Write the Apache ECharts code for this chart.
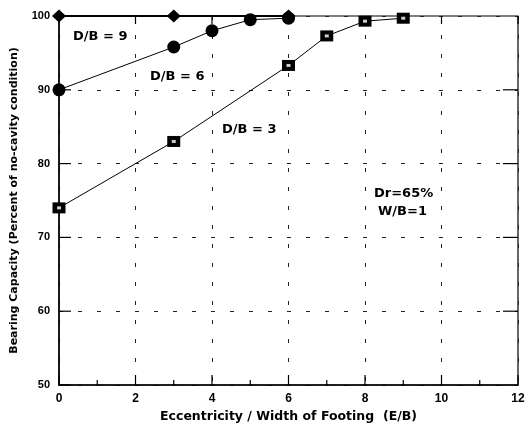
<!DOCTYPE html>
<html><head><meta charset="utf-8">
<script src="https://cdn.jsdelivr.net/npm/echarts@6/dist/echarts.min.js"></script>
<style>html,body{margin:0;padding:0;background:#fff}#c{width:529px;height:423px}</style>
</head><body><div id="c"></div>
<script>
const xTicks = [0, 2, 4, 6, 8, 10, 12];
const xMinorTicks = [1, 3, 5, 7, 9, 11];
const yTicks = [50, 60, 70, 80, 90, 100];
const db9X = [0, 3, 6];
const db9Y = [100, 100, 100];
const db6X = [0, 3, 4, 5, 6];
const db6Y = [90, 95.8, 98.0, 99.5, 99.7];
const db3X = [0, 3, 6, 7, 8, 9];
const db3Y = [74, 83, 93.3, 97.3, 99.3, 99.7];
const seriesNames = ['D/B = 9', 'D/B = 6', 'D/B = 3'];
const notes = ['Dr=65%', 'W/B=1'];

const zip = (xs, ys) => xs.map((x, i) => [x, ys[i]]);
const F = 'Liberation Sans, Arial, sans-serif';
const H = '"DejaVu Sans", sans-serif';
const xMin = xTicks[0], xMax = xTicks[xTicks.length - 1];
const yMin = yTicks[0], yMax = yTicks[yTicks.length - 1];
const chart = echarts.init(document.getElementById('c'), null, {renderer: 'canvas'});
const dash = {color: '#222', type: [4, 15], width: 1};

// tick marks: [x, y, kind]  kind: 0 bottom major, 1 bottom minor, 2 top, 3 left, 4 right
const tickData = []
  .concat(xTicks.map(v => [v, yMin, 0]))
  .concat(xMinorTicks.map(v => [v, yMin, 1]))
  .concat(xTicks.map(v => [v, yMax, 2]))
  .concat(yTicks.map(v => [xMin, v, 3]))
  .concat(yTicks.slice(1, -1).map(v => [xMax, v, 4]));
const tickLen = [10, 5, 8, 12, 15];
const tickDir = [[0, -1], [0, -1], [0, 1], [1, 0], [-1, 0]];

chart.setOption({
  animation: false,
  backgroundColor: '#fff',
  grid: {left: 59, right: 11, top: 16, bottom: 38, show: true, borderColor: '#000', borderWidth: 1.2,
         containLabel: false, outerBoundsMode: 'none'},
  xAxis: {
    type: 'value', min: xMin, max: xMax, interval: xTicks[1] - xTicks[0],
    axisLine: {show: true, lineStyle: {color: '#000', width: 1.5}},
    axisTick: {show: false},
    axisLabel: {color: '#000', fontFamily: F, fontWeight: 'bold', fontSize: 12, margin: 8},
    splitLine: {show: true, lineStyle: dash},
    name: 'Eccentricity / Width of Footing  (E/B)',
    nameLocation: 'middle', nameGap: 25,
    nameTextStyle: {color: '#000', fontFamily: H, fontWeight: 'bold', fontSize: 12.5}
  },
  yAxis: {
    type: 'value', min: yMin, max: yMax, interval: yTicks[1] - yTicks[0],
    axisLine: {show: true, lineStyle: {color: '#000', width: 1.5}},
    axisTick: {show: false},
    axisLabel: {color: '#000', fontFamily: F, fontWeight: 'bold', fontSize: 11, margin: 9},
    splitLine: {show: true, lineStyle: dash},
    name: 'Bearing Capacity (Percent of no-cavity condition)',
    nameLocation: 'middle', nameGap: 39, nameRotate: 90,
    nameTextStyle: {color: '#000', fontFamily: H, fontWeight: 'bold', fontSize: 11}
  },
  series: [
    {type: 'custom', data: tickData, clip: false, silent: true, z: 3,
     renderItem: function (params, api) {
       const p = api.coord([api.value(0), api.value(1)]);
       const k = api.value(2);
       const len = tickLen[k], d = tickDir[k];
       return {type: 'line', shape: {x1: p[0], y1: p[1], x2: p[0] + d[0] * len, y2: p[1] + d[1] * len},
               style: {stroke: '#000', lineWidth: 1.2}};
     }},
    {name: seriesNames[0], type: 'line', data: zip(db9X, db9Y), symbol: 'diamond', symbolSize: [14, 13],
     lineStyle: {color: '#000', width: 2}, itemStyle: {color: '#000'}, z: 4},
    {name: seriesNames[1], type: 'line', data: zip(db6X, db6Y), symbol: 'circle', symbolSize: 13,
     lineStyle: {color: '#000', width: 1}, itemStyle: {color: '#000'}},
    {name: seriesNames[2], type: 'line', data: zip(db3X, db3Y), symbol: 'rect', symbolSize: [13, 11],
     lineStyle: {color: '#000', width: 1}, itemStyle: {color: '#000'}},
    {type: 'scatter', data: zip(db3X, db3Y), symbol: 'rect', symbolSize: [4, 3], silent: true,
     itemStyle: {color: '#fff'}, z: 5}
  ],
  graphic: [
    {type: 'text', left: 73, top: 30, style: {text: seriesNames[0], fill: '#000', font: 'bold 13px ' + H}},
    {type: 'text', left: 150, top: 70, style: {text: seriesNames[1], fill: '#000', font: 'bold 13px ' + H}},
    {type: 'text', left: 222, top: 123, style: {text: seriesNames[2], fill: '#000', font: 'bold 13px ' + H}},
    {type: 'text', left: 374, top: 187, style: {text: notes[0], fill: '#000', font: 'bold 13px ' + H}},
    {type: 'text', left: 378, top: 205, style: {text: notes[1], fill: '#000', font: 'bold 13px ' + H}}
  ]
});
</script></body></html>
